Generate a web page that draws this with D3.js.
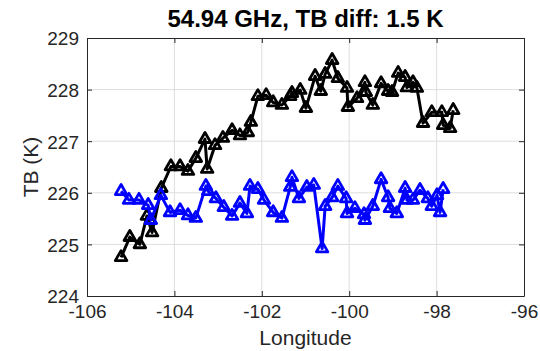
<!DOCTYPE html>
<html>
<head>
<meta charset="utf-8">
<script src="https://cdn.jsdelivr.net/npm/d3@7"></script>
<style>
  html, body { margin: 0; padding: 0; background: #fff; }
  svg { display: block; font-family: "Liberation Sans", Arial, Helvetica, sans-serif; }
</style>
</head>
<body>
<svg id="chart" width="540" height="351"></svg>
<script>
// Brightness temperature along track, two passes
const lonA = [-105.22,-105.02,-104.79,-104.63,-104.51,-104.30,-104.08,-103.87,-103.69,-103.51,
  -103.30,-103.25,-103.07,-102.89,-102.68,-102.50,-102.32,-102.25,-102.09,-101.90,
  -101.74,-101.54,-101.35,-101.31,-101.12,-100.99,-100.78,-100.65,-100.55,-100.39,
  -100.26,-100.05,-100.03,-99.82,-99.64,-99.62,-99.46,-99.27,-99.11,-99.02,
  -98.88,-98.72,-98.68,-98.54,-98.45,-98.31,-98.11,-97.88,-97.85,-97.69,-97.62];
const tbA = [224.75,225.14,225.00,225.55,225.23,226.09,226.51,226.51,226.42,226.67,
  227.04,226.46,226.92,227.06,227.21,227.11,227.17,227.37,227.87,227.89,
  227.75,227.70,227.87,227.93,227.99,227.64,228.26,227.97,228.30,228.57,
  228.22,228.03,227.66,227.83,228.14,227.95,227.70,228.12,227.97,227.95,
  228.32,228.24,228.04,228.14,228.03,227.35,227.56,227.56,227.31,227.25,227.60];

const lonB = [-105.22,-105.04,-104.81,-104.60,-104.54,-104.31,-104.10,-103.87,-103.69,-103.51,
  -103.28,-103.23,-103.05,-102.87,-102.68,-102.50,-102.34,-102.27,-102.09,-101.95,
  -101.74,-101.54,-101.35,-101.31,-101.15,-100.97,-100.81,-100.62,-100.55,-100.39,
  -100.26,-100.07,-100.05,-99.87,-99.66,-99.64,-99.46,-99.27,-99.11,-99.07,
  -98.91,-98.72,-98.68,-98.54,-98.38,-98.20,-98.11,-97.99,-97.92,-97.85];
const tbB = [226.03,225.86,225.86,225.76,225.47,225.95,225.62,225.66,225.56,225.51,
  226.13,226.03,225.89,225.72,225.55,225.80,225.60,226.13,226.07,225.86,
  225.62,225.51,226.11,226.30,225.89,226.11,226.15,224.92,225.74,225.91,
  226.13,225.89,225.60,225.70,225.58,225.47,225.74,226.26,225.91,225.70,
  225.60,226.09,225.86,225.86,226.05,225.89,225.74,225.95,225.62,226.07];

const xTicks = [-106, -104, -102, -100, -98, -96];
const yTicks = [224, 225, 226, 227, 228, 229];
const titleText = "54.94 GHz, TB diff: 1.5 K";
const xLabel = "Longitude";
const yLabel = "TB (K)";

const svg = d3.select("#chart");
const m = { left: 87, right: 524, top: 38, bottom: 296 };
const axisColor = "#262626";

const x = d3.scaleLinear().domain([-106, -96]).range([m.left, m.right]);
const y = d3.scaleLinear().domain([224, 229]).range([m.bottom, m.top]);

// grid
const grid = svg.append("g").attr("stroke", "#dedede").attr("stroke-width", 1);
grid.selectAll(".gx").data(xTicks.slice(1, -1)).join("line")
  .attr("x1", d => x(d)).attr("x2", d => x(d))
  .attr("y1", m.top).attr("y2", m.bottom);
grid.selectAll(".gy").data(yTicks.slice(1, -1)).join("line")
  .attr("x1", m.left).attr("x2", m.right)
  .attr("y1", d => y(d)).attr("y2", d => y(d));

// axes with inward ticks
const tickLen = 5;
const fs = 19;
const xAxis = svg.append("g").attr("transform", `translate(0,${m.bottom})`)
  .call(d3.axisBottom(x).tickValues(xTicks).tickSizeInner(-tickLen).tickSizeOuter(0)
    .tickFormat(d => d3.format("d")(d).replace("−", "-")));
const xTop = svg.append("g").attr("transform", `translate(0,${m.top})`)
  .call(d3.axisTop(x).tickValues(xTicks).tickSizeInner(-tickLen).tickSizeOuter(0).tickFormat(""));
const yAxis = svg.append("g").attr("transform", `translate(${m.left},0)`)
  .call(d3.axisLeft(y).tickValues(yTicks).tickSizeInner(-tickLen).tickSizeOuter(0).tickFormat(d3.format("d")));
const yRight = svg.append("g").attr("transform", `translate(${m.right},0)`)
  .call(d3.axisRight(y).tickValues(yTicks).tickSizeInner(-tickLen).tickSizeOuter(0).tickFormat(""));

[xAxis, xTop, yAxis, yRight].forEach(g => {
  g.select(".domain").attr("stroke", axisColor).attr("stroke-width", 1);
  g.selectAll(".tick line").attr("stroke", axisColor);
  g.selectAll(".tick text").attr("fill", axisColor).attr("font-size", fs)
    .attr("font-family", "'Liberation Sans', Arial, Helvetica, sans-serif");
});
xAxis.selectAll(".tick text").attr("dy", null).attr("y", 22);
yAxis.selectAll(".tick text").attr("x", -8).attr("dy", "0.36em");

// series
const series = [
  { lon: lonA, tb: tbA, color: "#000000" },
  { lon: lonB, tb: tbB, color: "#0000ff" }
];
const line = d3.line().x(d => x(d[0])).y(d => y(d[1]));
const tri = d3.symbol().type(d3.symbolTriangle).size(58);

series.forEach(s => {
  const pts = s.lon.map((v, i) => [v, s.tb[i]]);
  svg.append("path").datum(pts)
    .attr("d", line).attr("fill", "none")
    .attr("stroke", s.color).attr("stroke-width", 3).attr("stroke-linejoin", "round");
  svg.append("g").selectAll("path").data(pts).join("path")
    .attr("d", tri)
    .attr("transform", d => `translate(${x(d[0])},${y(d[1])})`)
    .attr("fill", "none").attr("stroke", s.color).attr("stroke-width", 2.8)
    .attr("stroke-linejoin", "round");
});

// labels
svg.append("text").attr("x", (m.left + m.right) / 2).attr("y", 27)
  .attr("text-anchor", "middle").attr("font-weight", "bold").attr("font-size", 24)
  .attr("fill", "#000").text(titleText);
svg.append("text").attr("x", (m.left + m.right) / 2).attr("y", 345)
  .attr("text-anchor", "middle").attr("font-size", 21).attr("fill", axisColor).text(xLabel);
svg.append("text").attr("transform", `translate(38,${(m.top + m.bottom) / 2}) rotate(-90)`)
  .attr("text-anchor", "middle").attr("font-size", 21).attr("fill", axisColor).text(yLabel);
</script>
</body>
</html>
